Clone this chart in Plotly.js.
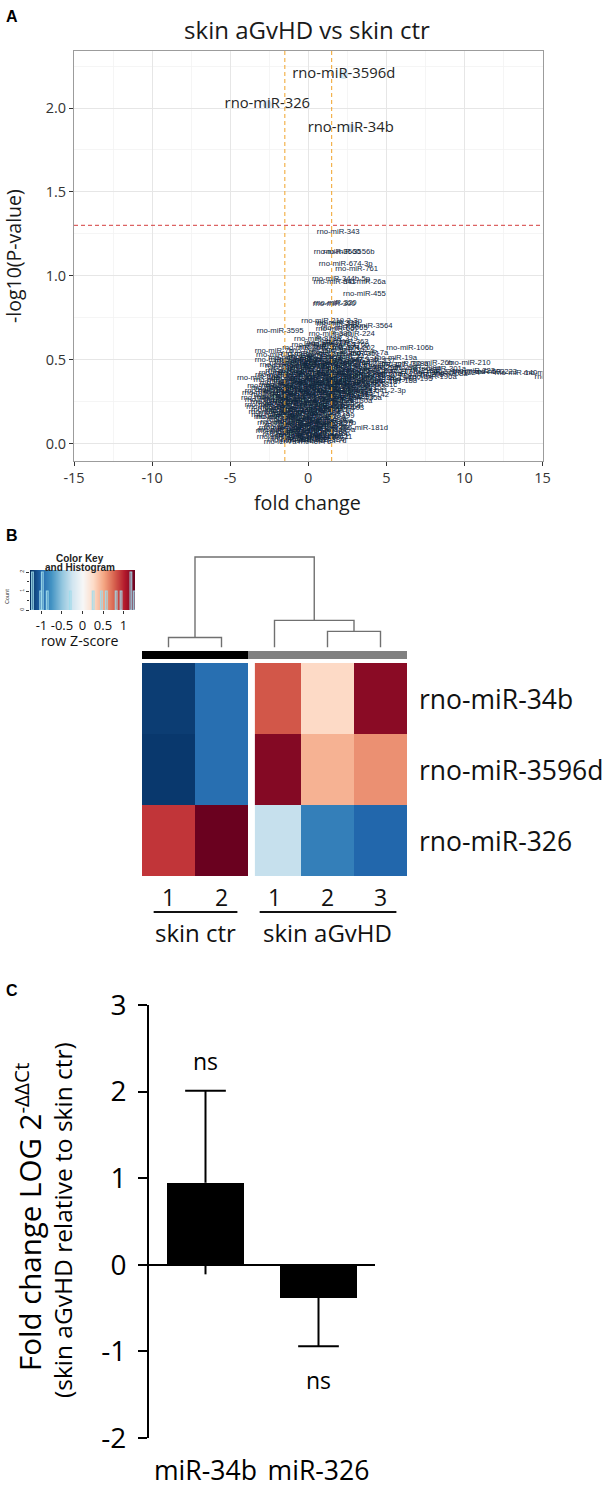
<!DOCTYPE html>
<html><head><meta charset="utf-8">
<script src="https://cdn.plot.ly/plotly-3.0.1.min.js"></script>
<style>html,body{margin:0;padding:0;background:#fff;}#fig{width:609px;height:1487px;}</style>
</head><body><div id="fig"></div>
<script>
// ---------------- Panel A: volcano data ----------------
const mirNames = [
 'rno-let-7a','rno-let-7b','rno-let-7c','rno-let-7d',
 'rno-let-7e','rno-let-7f','rno-let-7i','rno-miR-1',
 'rno-miR-9a','rno-miR-10a','rno-miR-10b','rno-miR-15b',
 'rno-miR-16','rno-miR-17','rno-miR-18a','rno-miR-19b',
 'rno-miR-20a','rno-miR-20b','rno-miR-21','rno-miR-22','rno-miR-181d',
 'rno-miR-23a','rno-miR-23b','rno-miR-24','rno-miR-25',
 'rno-miR-27a','rno-miR-27b','rno-miR-28','rno-miR-29a',
 'rno-miR-29b','rno-miR-29c','rno-miR-30a','rno-miR-30b',
 'rno-miR-30c','rno-miR-30d','rno-miR-30e','rno-miR-31a',
 'rno-miR-32','rno-miR-33','rno-miR-92a','rno-miR-93','rno-miR-96',
 'rno-miR-98','rno-miR-99a','rno-miR-99b','rno-miR-100','rno-miR-103',
 'rno-miR-107','rno-miR-122','rno-miR-124','rno-miR-125a','rno-miR-125b',
 'rno-miR-126a','rno-miR-127','rno-miR-128','rno-miR-129','rno-miR-130a',
 'rno-miR-130b','rno-miR-132','rno-miR-133a','rno-miR-133b','rno-miR-134','rno-miR-135a',
 'rno-miR-136','rno-miR-137','rno-miR-138','rno-miR-139','rno-miR-141','rno-miR-142',
 'rno-miR-143','rno-miR-144','rno-miR-145','rno-miR-146a','rno-miR-146b','rno-miR-147','rno-miR-541-2-3p',
 'rno-miR-365','rno-miR-148a','rno-miR-148b','rno-miR-150','rno-miR-151','rno-miR-152',
 'rno-miR-153','rno-miR-154','rno-miR-155','rno-miR-181a','rno-miR-181b','rno-miR-181c',
 'rno-miR-182','rno-miR-183','rno-miR-184','rno-miR-185','rno-miR-186','rno-miR-187','rno-miR-188',
 'rno-miR-463','rno-miR-101a','rno-miR-190a','rno-miR-191a','rno-miR-192','rno-miR-193a','rno-miR-194','rno-miR-195','rno-miR-196a',
 'rno-miR-199a','rno-miR-200a','rno-miR-200b','rno-miR-200c','rno-miR-203a','rno-miR-204','rno-miR-205','rno-miR-206','rno-miR-208a',
 'rno-miR-1224','rno-miR-503','rno-miR-140','rno-miR-135b','rno-miR-3571',
 'rno-miR-211','rno-miR-212','rno-miR-214','rno-miR-215','rno-miR-216a','rno-miR-217','rno-miR-218a','rno-miR-221','rno-miR-222','rno-miR-223',
 'rno-miR-290','rno-miR-291a','rno-miR-292','rno-miR-296','rno-miR-297','rno-miR-298','rno-miR-299a','rno-miR-301a',
 'rno-miR-301b','rno-miR-322','rno-miR-323','rno-miR-324','rno-miR-325','rno-miR-327','rno-miR-328a','rno-miR-26b','rno-miR-210',
 'rno-miR-329','rno-miR-330','rno-miR-335','rno-miR-336','rno-miR-337','rno-miR-598-3p',
 'rno-miR-338','rno-miR-339','rno-miR-340','rno-miR-342','rno-miR-19a',
 'rno-miR-1193-3p','rno-miR-345','rno-miR-347','rno-miR-350','rno-miR-351','rno-miR-7a',
 'rno-miR-7b','rno-miR-352','rno-miR-361','rno-miR-362',
 'rno-miR-369','rno-miR-370','rno-miR-374','rno-miR-202','rno-miR-106b',
 'rno-miR-375','rno-miR-376a','rno-miR-376b','rno-miR-377','rno-miR-363',
 'rno-miR-378a','rno-miR-379','rno-miR-380','rno-miR-224',
 'rno-miR-3595','rno-miR-667','rno-miR-3065','rno-miR-3564','rno-miR-349','rno-miR-219-2-3p',
 'rno-miR-331','rno-miR-300','rno-miR-320','rno-miR-455','rno-miR-341','rno-miR-26a','rno-miR-344b-5p','rno-miR-761','rno-miR-674-3p','rno-miR-3560','rno-miR-3556b','rno-miR-343',
 // core (non-significant, densely overlapping)
 'rno-miR-381','rno-miR-382','rno-miR-384',
 'rno-miR-409a','rno-miR-410','rno-miR-411','rno-miR-421',
 'rno-miR-423','rno-miR-425','rno-miR-429',
 'rno-miR-433','rno-miR-434','rno-miR-448','rno-miR-449a',
 'rno-miR-450a','rno-miR-451','rno-miR-466b',
 'rno-miR-483','rno-miR-484','rno-miR-485','rno-miR-487b',
 'rno-miR-488','rno-miR-490','rno-miR-493',
 'rno-miR-494','rno-miR-495','rno-miR-497','rno-miR-499',
 'rno-miR-500','rno-miR-501','rno-miR-504',
 'rno-miR-505','rno-miR-532','rno-miR-539','rno-miR-541',
 'rno-miR-542','rno-miR-547','rno-miR-551b','rno-miR-652','rno-miR-664',
 'rno-miR-672','rno-miR-708','rno-miR-743b','rno-miR-758',
 'rno-miR-770','rno-miR-871','rno-miR-872','rno-miR-874','rno-miR-877',
 'rno-miR-881','rno-miR-935','rno-miR-1249','rno-miR-1306','rno-miR-1839',
 'rno-miR-1843a','rno-miR-3068','rno-miR-3072','rno-miR-3074','rno-miR-3084a',
 'rno-miR-3099','rno-miR-3102','rno-miR-3120','rno-miR-3473','rno-miR-3541',
 'rno-miR-3557','rno-miR-3559','rno-miR-3575','rno-miR-3585','rno-miR-3590',
 'rno-miR-3593','rno-miR-3594','rno-miR-3596a','rno-miR-3596b','rno-miR-3596c',
 'rno-miR-344a','rno-miR-344g','rno-miR-344i','rno-miR-466c','rno-miR-466d',
 'rno-miR-471','rno-miR-480','rno-miR-489','rno-miR-551','rno-miR-582',
 'rno-miR-590','rno-miR-615','rno-miR-628','rno-miR-632','rno-miR-653',
 'rno-miR-665','rno-miR-666','rno-miR-668','rno-miR-671','rno-miR-673',
 'rno-miR-675','rno-miR-678','rno-miR-702','rno-miR-742',
 'rno-miR-743a','rno-miR-744','rno-miR-760','rno-miR-764',
 'rno-miR-873','rno-miR-878','rno-miR-3547'
];
const mirFC = [
 -1.8,-0.7,0.4,1.4,
 -1.3,-0.2,0.9,1.5,
 -1.7,-0.5,0.6,1.3,
 -1.2,0.0,1.1,-2.0,
 -1.8,-0.6,0.5,1.4,3.6,
 -1.4,-0.1,1.0,1.6,
 -1.7,-0.6,0.4,1.5,
 -1.2,0.1,1.1,-2.1,
 -2.3,-1.0,0.2,1.3,
 -2.6,-1.5,-0.3,0.8,1.7,
 -2.0,-0.8,0.4,1.4,2.2,
 -2.7,-1.4,-0.2,1.0,2.0,
 -2.2,-0.9,0.3,1.5,2.6,
 -2.8,-1.6,-0.4,0.8,2.0,3.2,
 -2.3,-1.1,0.1,1.3,2.5,3.8,
 -2.7,-1.5,-0.3,0.9,2.1,3.0,4.3,
 -2.3,-1.0,0.3,1.5,2.7,3.6,
 -1.8,-0.6,0.6,1.8,3.0,4.2,
 -1.3,-0.1,1.1,2.3,3.4,4.6,5.6,
 -3.2,-0.7,0.4,1.6,2.8,4.0,5.2,6.6,8.0,
 -1.9,-0.4,0.9,2.1,3.3,4.6,5.9,7.3,8.7,
 9.5,11.2,13.3,15.3,16.0,
 -1.4,0.0,1.3,2.6,3.9,5.3,6.8,8.1,10.6,12.0,
 -1.0,0.4,1.7,3.0,4.4,5.6,7.0,8.6,
 -1.6,-0.2,1.1,2.3,3.6,4.9,6.2,7.9,10.3,
 -0.8,0.5,1.8,3.1,4.2,-1.7,
 -1.2,0.1,1.3,2.5,5.6,
 -1.5,-0.4,0.9,2.0,3.2,3.9,
 -2.2,0.2,1.4,2.5,
 -0.3,0.8,1.9,2.9,6.5,
 0.3,1.5,2.4,1.1,2.5,
 0.6,1.8,1.4,2.9,
 -1.8,1.85,2.3,3.9,1.9,1.5,
 1.8,1.66,1.72,3.6,1.7,3.6,2.1,3.1,2.4,1.85,2.6,1.92,
 -1.25,-0.15,0.95,
 -1.8,-0.75,0.35,1.45,
 -1.3,-0.2,0.85,
 -1.9,-0.65,0.55,1.5,
 -1.35,-0.15,0.95,
 -1.9,-0.75,0.35,1.55,
 -1.3,-0.1,1.0,
 -2.0,-0.75,0.45,1.6,
 -1.8,-0.5,0.7,
 -2.3,-1.1,0.1,1.2,
 -2.6,-1.5,-0.3,0.9,2.0,
 -2.0,-0.8,0.4,1.6,
 -2.7,-1.5,-0.3,0.9,2.1,
 -2.1,-0.9,0.3,1.5,2.7,
 -2.6,-1.4,-0.2,1.0,2.2,
 -1.9,-0.7,0.5,1.7,2.9,
 -2.4,-1.2,0.0,1.2,2.4,
 -1.6,-0.4,0.8,2.0,3.3,
 -2.0,-0.9,0.3,1.5,2.7,
 -1.3,-0.1,1.1,2.4,3.6,
 -1.8,-0.6,0.6,1.9,3.2,
 -1.2,0.0,1.2,2.4,3.6,
 -1.4,-0.3,0.9,2.0,
 -1.0,0.2,1.4,2.6,
 -0.5,0.8,2.0
];
const mirLogP = [
 0.010,0.015,0.006,0.012,
 0.030,0.027,0.033,0.036,
 0.050,0.053,0.047,0.055,
 0.070,0.073,0.068,0.076,
 0.090,0.093,0.088,0.095,0.090,
 0.110,0.113,0.108,0.115,
 0.130,0.133,0.128,0.135,
 0.150,0.153,0.148,0.156,
 0.170,0.173,0.168,0.175,
 0.190,0.193,0.188,0.195,0.191,
 0.210,0.213,0.208,0.215,0.211,
 0.230,0.233,0.228,0.235,0.231,
 0.250,0.253,0.248,0.255,0.251,
 0.270,0.273,0.268,0.275,0.271,0.269,
 0.290,0.293,0.288,0.295,0.291,0.289,
 0.310,0.313,0.308,0.315,0.311,0.309,0.310,
 0.330,0.333,0.328,0.335,0.331,0.329,
 0.350,0.353,0.348,0.355,0.351,0.349,
 0.370,0.373,0.368,0.375,0.371,0.369,0.372,
 0.390,0.390,0.388,0.395,0.391,0.389,0.392,0.386,0.394,
 0.410,0.413,0.408,0.415,0.411,0.409,0.412,0.406,0.414,
 0.420,0.425,0.420,0.418,0.398,
 0.430,0.433,0.428,0.435,0.431,0.429,0.432,0.426,0.434,0.428,
 0.450,0.453,0.448,0.455,0.451,0.449,0.452,0.446,
 0.470,0.473,0.468,0.475,0.471,0.469,0.472,0.480,0.480,
 0.490,0.493,0.488,0.495,0.491,0.500,
 0.510,0.513,0.508,0.515,0.510,
 0.530,0.533,0.528,0.535,0.531,0.540,
 0.550,0.553,0.548,0.555,
 0.570,0.573,0.568,0.570,0.570,
 0.590,0.593,0.588,0.600,0.605,
 0.620,0.623,0.650,0.650,
 0.67,0.68,0.69,0.70,0.71,0.73,
 0.72,0.83,0.835,0.89,0.96,0.96,0.98,1.04,1.07,1.14,1.14,1.26,
 0.020,0.022,0.019,
 0.040,0.042,0.039,0.041,
 0.060,0.062,0.059,
 0.080,0.082,0.079,0.081,
 0.100,0.102,0.099,
 0.120,0.122,0.119,0.121,
 0.140,0.142,0.139,
 0.160,0.162,0.159,0.161,
 0.180,0.182,0.179,
 0.200,0.202,0.199,0.201,
 0.220,0.222,0.219,0.221,0.220,
 0.240,0.242,0.239,0.241,
 0.260,0.262,0.259,0.261,0.260,
 0.280,0.282,0.279,0.281,0.280,
 0.300,0.302,0.299,0.301,0.300,
 0.320,0.322,0.319,0.321,0.320,
 0.340,0.342,0.339,0.341,0.340,
 0.360,0.362,0.359,0.361,0.360,
 0.380,0.382,0.379,0.381,0.380,
 0.400,0.402,0.399,0.401,0.400,
 0.420,0.422,0.419,0.421,0.420,
 0.440,0.442,0.439,0.441,0.440,
 0.460,0.462,0.459,0.461,
 0.480,0.482,0.479,0.481,
 0.500,0.502,0.499
];
const sigNames = ['rno-miR-3596d','rno-miR-326','rno-miR-34b'];
const sigFC = [2.27, -2.62, 2.72];
const sigLogP = [2.20, 2.02, 1.88];
const fcCut = 1.5;
const pCut = 0.05;
const volcanoXTicks = [-15,-10,-5,0,5,10,15];

// ---------------- Panel B: heatmap data ----------------
const hmRows = ['rno-miR-34b','rno-miR-3596d','rno-miR-326'];
const hmSamples = ['1','2','1','2','3'];
const hmGroups = ['skin ctr','skin aGvHD'];
const hmGroupOf = [0,0,1,1,1];
const hmZ = [
 [-1.22,-0.97, 0.80, 0.26, 1.16],
 [-1.24,-0.97, 1.18, 0.45, 0.59],
 [ 0.92, 1.27,-0.30,-0.88,-1.02]
];
const keyRange = [-1.28, 1.28];
const keyTicks = [-1, -0.5, 0, 0.5, 1];
const keyTickText = ['-1','-0.5','0','0.5','1'];
const countTicks = [0, 1, 2];
// dendrogram: [childA, childB, height]; leaves 0..4, merged nodes 5,6,7,8
const dendroMerges = [[0,1,1.0],[3,4,1.6],[2,6,2.7],[5,7,9.0]];
const groupColors = ['#000000','#808080'];
const rdbu = [[0,'#053061'],[0.1,'#2166ac'],[0.2,'#4393c3'],[0.3,'#92c5de'],[0.4,'#d1e5f0'],
 [0.5,'#f7f7f7'],[0.6,'#fddbc7'],[0.7,'#f4a582'],[0.8,'#d6604d'],[0.9,'#b2182b'],[1,'#67001f']];

// ---------------- Panel C: qPCR bars ----------------
const barNames = ['miR-34b','miR-326'];
const barMeans = [0.95, -0.38];
const barSEM = [1.06, 0.56];
const barSig = ['ns','ns'];
const barYTicks = [-2,-1,0,1,2,3];

// ---------------- helpers ----------------
const W = 609, H = 1487;
const dX = (a, b) => [a / W, b / W];
const dY = (top, bottom) => [1 - bottom / H, 1 - top / H];
const px = v => v / W;
const py = v => 1 - v / H;
const SANS = 'Open Sans, sans-serif';
const ARIAL = 'Liberation Sans, Arial, sans-serif';

const traces = [];
// volcano labels
traces.push({type:'scatter', mode:'text', x: mirFC, y: mirLogP, text: mirNames,
  textposition:'middle center', textfont:{family: ARIAL, size:7.7, color:'#10263d'},
  xaxis:'x', yaxis:'y', hoverinfo:'skip', cliponaxis:true});
traces.push({type:'scatter', mode:'markers+text', x: sigFC, y: sigLogP, text: sigNames,
  marker:{size:9, color:'#cfe4f2', opacity:0.9},
  textposition:'middle center', textfont:{family: SANS, size:14.8, color:'#262626'},
  xaxis:'x', yaxis:'y', hoverinfo:'skip'});

// heatmap
const colIdx = hmSamples.map((s,i)=>i);
traces.push({type:'heatmap', z: hmZ, x: colIdx, y: hmRows.map((r,i)=>i), colorscale: rdbu,
  zmin: keyRange[0], zmax: keyRange[1], showscale:false, xaxis:'x2', yaxis:'y2', hoverinfo:'skip'});
// column side colours
traces.push({type:'heatmap', z:[hmGroupOf], x: colIdx, y:[0],
  colorscale:[[0,groupColors[0]],[1,groupColors[1]]], zmin:0, zmax:1, showscale:false,
  xaxis:'x2', yaxis:'y3', hoverinfo:'skip'});
// dendrogram
const nodeX = colIdx.slice(), nodeH = colIdx.map(()=>0);
const dgx = [], dgy = [];
dendroMerges.forEach(([a,b,h]) => {
  dgx.push(nodeX[a], nodeX[a], nodeX[b], nodeX[b], null);
  dgy.push(nodeH[a], h, h, nodeH[b], null);
  nodeX.push((nodeX[a] + nodeX[b]) / 2); nodeH.push(h);
});
traces.push({type:'scatter', mode:'lines', x: dgx, y: dgy, line:{color:'#707070', width:1.4},
  xaxis:'x2', yaxis:'y4', hoverinfo:'skip'});
// colour key gradient + histogram
traces.push({type:'heatmap', z:[[keyRange[0], keyRange[1]],[keyRange[0], keyRange[1]]],
  x: keyRange, y:[-1, 4], zsmooth:'best', colorscale: rdbu, zmin: keyRange[0], zmax: keyRange[1],
  showscale:false, xaxis:'x3', yaxis:'y5', hoverinfo:'skip'});
traces.push({type:'histogram', x: hmZ.flat(), xbins:{start: keyRange[0], end: keyRange[1], size:0.04},
  marker:{color:'rgba(0,0,0,0)', line:{color:'rgba(160,220,235,0.9)', width:1.2}},
  xaxis:'x3', yaxis:'y5', hoverinfo:'skip'});

// bars
const barIdx = barNames.map((n,i)=>i);
traces.push({type:'bar', x: barIdx, y: barMeans, width:0.68, marker:{color:'#000000'},
  xaxis:'x4', yaxis:'y6', hoverinfo:'skip'});
// error bars (direction away from zero, capped) + hidden opposite half of positive bar
const capHalf = 0.18;
const ex = [], ey = [];
barIdx.forEach(i => {
  const dir = barMeans[i] >= 0 ? 1 : -1;
  const end = barMeans[i] + dir * barSEM[i];
  ex.push(i, i, null, i - capHalf, i + capHalf, null);
  ey.push(barMeans[i], end, null, end, end, null);
  if (dir > 0) { ex.push(i, i, null); ey.push(barMeans[i], barMeans[i] - barSEM[i], null); }
});
traces.push({type:'scatter', mode:'lines', x: ex, y: ey, line:{color:'#000', width:2},
  xaxis:'x4', yaxis:'y6', hoverinfo:'skip', cliponaxis:false});

// ---------------- annotations & shapes ----------------
const ann = [];
const shapes = [];
const A = (o) => ann.push(Object.assign({showarrow:false, xref:'paper', yref:'paper', xanchor:'center', yanchor:'middle'}, o));

// panel letters
A({text:'<b>A</b>', x:px(12), y:py(16), font:{family:ARIAL, size:16, color:'#000'}});
A({text:'<b>B</b>', x:px(12), y:py(535), font:{family:ARIAL, size:16, color:'#000'}});
A({text:'<b>C</b>', x:px(12), y:py(990), font:{family:ARIAL, size:16, color:'#000'}});

// volcano axis titles
A({text:'fold change', x:px(307), y:py(502), font:{family:SANS, size:19.7, color:'#1a1a1a'}});
A({text:'-log10(P-value)', x:px(14), y:py(256), textangle:-90, font:{family:SANS, size:19.5, color:'#1a1a1a'}});
// volcano reference lines
[-fcCut, fcCut].forEach(v => shapes.push({type:'line', xref:'x', yref:'y domain', x0:v, x1:v, y0:0, y1:1,
  line:{color:'#f0a32a', width:1, dash:'4px,3px'}}));
shapes.push({type:'line', xref:'x domain', yref:'y', x0:0, x1:1, y0:-Math.log10(pCut), y1:-Math.log10(pCut),
  line:{color:'#d43d3d', width:1, dash:'4px,3px'}});

// heatmap row labels
hmRows.forEach((r,i) => A({text:r, x:px(417), xanchor:'left', yref:'y2', y:i,
  font:{family:SANS, size:26.5, color:'#111'}}));
// sample numbers
hmSamples.forEach((s,i) => A({text:s, xref:'x2', x:i, y:py(897), font:{family:SANS, size:23, color:'#111'}}));
// group underline + names
hmGroups.forEach((g,gi) => {
  const idx = hmGroupOf.map((v,i)=>i).filter(i=>hmGroupOf[i]===gi);
  const s = Math.min(...idx), e = Math.max(...idx);
  shapes.push({type:'line', xref:'x2', yref:'paper', x0:s-0.28, x1:e+0.3, y0:py(912), y1:py(912),
    line:{color:'#111', width:2}});
  A({text:g, xref:'x2', x:(s+e)/2, y:py(933), font:{family:SANS, size:24, color:'#111'}});
});
// separator between groups
const nFirst = hmGroupOf.filter(v=>v===0).length;
shapes.push({type:'rect', xref:'x2', yref:'y2', x0:nFirst-0.5, x1:nFirst-0.5+0.13, y0:-0.5, y1:hmRows.length-0.5,
  fillcolor:'#ffffff', line:{width:0}});
// colour key titles
A({text:'<b>Color Key</b>', x:px(80), y:py(558), font:{family:ARIAL, size:10, color:'#222'}});
A({text:'<b>and Histogram</b>', x:px(80), y:py(567.5), font:{family:ARIAL, size:10, color:'#222'}});
A({text:'row Z-score', x:px(80), y:py(640), font:{family:SANS, size:14.2, color:'#111'}});
A({text:'Count', x:px(7), y:py(597), textangle:-90, font:{family:ARIAL, size:5.5, color:'#333'}});

// bar chart y titles & ns
A({text:'Fold change LOG 2<sup>-ΔΔCt</sup>', x:px(28), y:py(1217), textangle:-90,
  font:{family:SANS, size:29.5, color:'#000'}});
A({text:'(skin aGvHD relative to skin ctr)', x:px(62), y:py(1220), textangle:-90,
  font:{family:SANS, size:24.5, color:'#000'}});
barIdx.forEach(i => {
  const up = barMeans[i] >= 0;
  ann.push({showarrow:false, xref:'x4', yref:'y6', x:i, xanchor:'center',
    y: up ? barMeans[i] + barSEM[i] + 0.14 : barMeans[i] - barSEM[i] - 0.18,
    yanchor: up ? 'bottom' : 'top', text: barSig[i], font:{family:SANS, size:23, color:'#000'}});
});

const layout = {
  width: W, height: H, margin:{l:0,r:0,t:0,b:0,pad:0},
  paper_bgcolor:'#fff', plot_bgcolor:'rgba(0,0,0,0)', showlegend:false, hovermode:false,
  bargap:0,
  title:{text:'skin aGvHD vs skin ctr', x:px(307), xanchor:'center', y:py(31), yanchor:'middle',
    font:{family:SANS, size:24, color:'#1a1a1a'}},
  xaxis:{domain:dX(74,542.5), range:[-15,15], tickvals: volcanoXTicks, ticktext: volcanoXTicks.map(String), anchor:'y',
    showgrid:true, gridcolor:'#e6e6e6', gridwidth:1,
    minor:{dtick:2.5, tick0:0, showgrid:true, gridcolor:'#f2f2f2', gridwidth:0.8},
    zeroline:false, showline:true, mirror:true, linecolor:'#9c9c9c', linewidth:1,
    ticks:'outside', ticklen:4, tickcolor:'#333', tickfont:{family:SANS, size:14.5, color:'#333'}},
  yaxis:{domain:dY(51,461), range:[-0.104, 2.34], dtick:0.5, tick0:0, tickformat:'.1f', anchor:'x',
    showgrid:true, gridcolor:'#e6e6e6', gridwidth:1,
    minor:{dtick:0.25, tick0:0, showgrid:true, gridcolor:'#f2f2f2', gridwidth:0.8},
    zeroline:false, showline:true, mirror:true, linecolor:'#9c9c9c', linewidth:1,
    ticks:'outside', ticklen:4, tickcolor:'#333', tickfont:{family:SANS, size:14.5, color:'#333'}},
  xaxis2:{domain:dX(142,407), range:[-0.5,4.5], visible:false, anchor:'y2'},
  yaxis2:{domain:dY(663,876), range:[2.5,-0.5], visible:false, anchor:'x2'},
  yaxis3:{domain:dY(651,659), range:[-0.5,0.5], visible:false, anchor:'x2'},
  yaxis4:{domain:dY(552,647.5), range:[0,9.5], visible:false, anchor:'x2'},
  xaxis3:{domain:dX(30,135), range: keyRange, anchor:'y5', tickvals: keyTicks, ticktext: keyTickText,
    ticks:'outside', ticklen:3, tickcolor:'#333', showgrid:false, zeroline:false, showline:false,
    tickfont:{family:SANS, size:13, color:'#111'}},
  yaxis5:{domain:dY(570,610), range:[0,2.105], anchor:'x3', tickvals: countTicks, tickangle:-90,
    ticks:'outside', ticklen:3, tickcolor:'#333', showgrid:false, zeroline:false, showline:false,
    minor:{dtick:0.5, tick0:0, ticks:'outside', ticklen:2, tickcolor:'#333'},
    tickfont:{family:ARIAL, size:5.5, color:'#333'}},
  xaxis4:{domain:dX(149,375), range:[-0.5,1.5], anchor:'y6', tickvals: barIdx, ticktext: barNames,
    showline:false, ticks:'', showgrid:false, zeroline:false, ticklabelstandoff:14,
    tickfont:{family:SANS, size:26.6, color:'#000'}},
  yaxis6:{domain:dY(1005,1438), range:[-2,3], tickvals: barYTicks, ticktext: barYTicks.map(String), anchor:'x4',
    showline:true, linewidth:2, linecolor:'#000', ticks:'outside', ticklen:9, tickwidth:2, tickcolor:'#000',
    showgrid:false, zeroline:true, zerolinewidth:2, zerolinecolor:'#000', ticklabelstandoff:6,
    tickfont:{family:SANS, size:28, color:'#000'}},
  annotations: ann, shapes: shapes
};

Plotly.newPlot('fig', traces, layout, {staticPlot:true, displayModeBar:false});
</script></body></html>
